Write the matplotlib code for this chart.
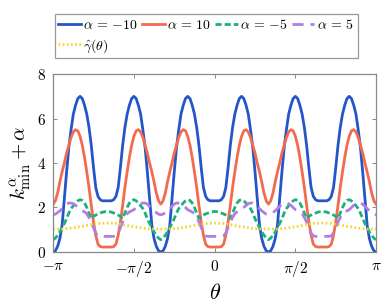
import numpy as np
import matplotlib.pyplot as plt

plt.rcParams['mathtext.fontset'] = 'cm'
plt.rcParams['font.family'] = ['DejaVu Serif']

# one period of the curves: offset from the period centre (deg)
# centres are at -2pi/3, 0, 2pi/3; the curves are symmetric about each centre
half_deg = [0, 2.5, 5, 7.5, 10, 12.5, 15, 17.5, 20, 22.5, 25, 27.5, 30,
            32.5, 35, 37.5, 40, 42.5, 45, 47.5, 50, 52.5, 55, 57.5, 60]
centres_deg = [-120, 0, 120]

a_m10 = [2.3, 2.3, 2.3, 2.35, 2.5, 2.9, 3.8, 4.8, 5.6, 6.2, 6.6, 6.9, 7.0,
         6.9, 6.6, 6.2, 5.5, 4.7, 3.6, 2.4, 1.2, 0.6, 0.25, 0.05, 0.0]
a_10 = [0.22, 0.22, 0.22, 0.24, 0.35, 0.75, 1.35, 2.1, 2.9, 3.6, 4.25, 4.8, 5.2,
        5.45, 5.5, 5.4, 5.15, 4.8, 4.45, 4.0, 3.6, 3.15, 2.65, 2.3, 2.15]
a_m5 = [1.82, 1.81, 1.79, 1.75, 1.71, 1.66, 1.6, 1.5, 1.75, 2.0, 2.2, 2.32, 2.35,
        2.3, 2.2, 2.08, 1.95, 1.75, 1.5, 1.28, 1.1, 0.9, 0.75, 0.62, 0.55]
a_5 = [0.7, 0.7, 0.7, 0.7, 0.72, 0.85, 1.1, 1.35, 1.55, 1.72, 1.8, 1.85, 1.9,
       2.0, 2.1, 2.17, 2.2, 2.2, 2.15, 2.05, 1.95, 1.85, 1.77, 1.7, 1.67]
gamma_hat = [1.3, 1.3, 1.29, 1.29, 1.28, 1.26, 1.25, 1.23, 1.21, 1.19, 1.17, 1.15, 1.14,
             1.12, 1.1, 1.09, 1.07, 1.06, 1.05, 1.04, 1.03, 1.03, 1.03, 1.03, 1.03]

labels = [r'$\alpha\,=\,{-}10$', r'$\alpha\,=\,10$', r'$\alpha\,=\,{-}5$', r'$\alpha\,=\,5$',
          r'$\hat{\gamma}(\theta)$']
colors = ['#2456C8', '#F36B4F', '#1DB07A', '#B07FE3', '#F5D32A']


def one_period(h):
    h = np.asarray(h, dtype=float)
    return np.concatenate([h[:0:-1], h])


u = np.concatenate([-np.asarray(half_deg[:0:-1]), half_deg])
theta = []
for i, c in enumerate(centres_deg):
    t = c + u
    theta.append(t if i == 0 else t[1:])
theta = np.deg2rad(np.concatenate(theta))


def tiled(h):
    p = one_period(h)
    return np.concatenate([p] + [p[1:]] * (len(centres_deg) - 1))


fig = plt.figure(figsize=(3.85, 3.05), dpi=100)
ax = fig.add_axes([0.138, 0.174, 0.839, 0.583])

lines = []
lines.append(ax.plot(theta, tiled(a_m10), color=colors[0], lw=2, label=labels[0])[0])
lines.append(ax.plot(theta, tiled(a_10), color=colors[1], lw=2, label=labels[1])[0])
lines.append(ax.plot(theta, tiled(a_m5), color=colors[2], lw=2, dashes=(2.2, 1.1), label=labels[2])[0])
lines.append(ax.plot(theta, tiled(a_5), color=colors[3], lw=2, dashes=(4, 2.5), label=labels[3])[0])
lines.append(ax.plot(theta, tiled(gamma_hat), color=colors[4], lw=2, dashes=(0.6, 0.9), label=labels[4])[0])

ax.set_xlim(-np.pi, np.pi)
ax.set_ylim(0, 8)
ax.set_xticks([-np.pi, -np.pi / 2, 0, np.pi / 2, np.pi])
ax.set_xticklabels([r'$-\pi$', r'$-\pi/2$', r'$0$', r'$\pi/2$', r'$\pi$'])
ax.set_yticks([0, 2, 4, 6, 8])
ax.set_yticklabels([r'$0$', r'$2$', r'$4$', r'$6$', r'$8$'])
ax.tick_params(direction='in', top=True, right=True, length=3, width=0.7,
               color='#888888', labelsize=11, pad=5)
for s in ax.spines.values():
    s.set_color('#888888')
    s.set_linewidth(0.9)

ax.set_xlabel(r'$\theta$', fontsize=16, labelpad=2)
ax.set_ylabel(r'$k^{\alpha}_{\min}+\alpha$', fontsize=15, labelpad=2)

order = [0, 4, 1, 2, 3]
leg = fig.legend([lines[i] for i in order], [labels[i] for i in order],
                 loc='lower left', bbox_to_anchor=(55 / 385, 1 - 58 / 305),
                 ncol=4, fontsize=10, handlelength=1.6, handletextpad=0.2,
                 columnspacing=0.3, borderpad=0.25, borderaxespad=0,
                 labelspacing=0.35, fancybox=False, framealpha=1)
leg.get_frame().set_edgecolor('#999999')
leg.get_frame().set_linewidth(0.9)

fig.savefig('out.png', dpi=100)
